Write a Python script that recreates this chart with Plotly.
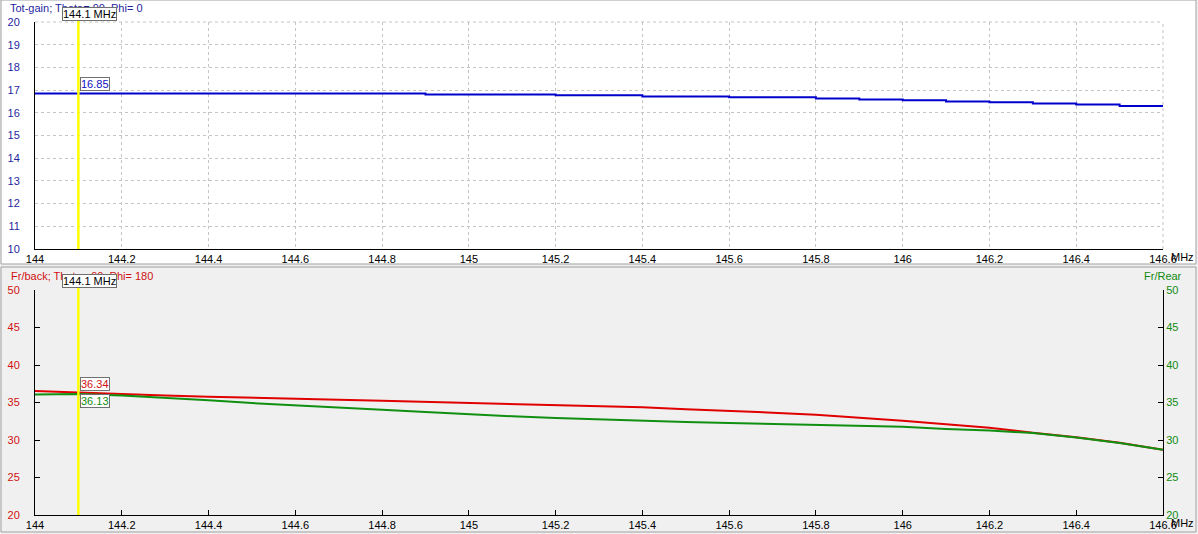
import plotly.graph_objects as go

W, H = 1198, 534

# ---------------- data ----------------
freq_mhz = [144.0, 144.1, 144.2, 144.3, 144.4, 144.5, 144.6, 144.7, 144.8, 144.9,
            145.0, 145.1, 145.2, 145.3, 145.4, 145.5, 145.6, 145.7, 145.8, 145.9,
            146.0, 146.1, 146.2, 146.3, 146.4, 146.5, 146.6]
tot_gain = [16.85, 16.85, 16.85, 16.85, 16.85, 16.85, 16.85, 16.85, 16.85, 16.81,
            16.81, 16.81, 16.77, 16.77, 16.72, 16.72, 16.68, 16.68, 16.63, 16.59,
            16.55, 16.50, 16.46, 16.41, 16.37, 16.30, 16.28]
fr_back = [36.55, 36.34, 36.08, 35.93, 35.78, 35.68, 35.52, 35.38, 35.24, 35.10,
           34.97, 34.84, 34.72, 34.50, 34.36, 34.10, 33.91, 33.64, 33.36, 32.98,
           32.57, 32.09, 31.62, 30.98, 30.36, 29.62, 28.70]
fr_rear = [36.06, 36.13, 35.95, 35.65, 35.29, 34.93, 34.60, 34.35, 34.02, 33.73,
           33.42, 33.16, 32.93, 32.76, 32.50, 32.40, 32.27, 32.17, 32.04, 31.94,
           31.78, 31.48, 31.26, 30.92, 30.33, 29.60, 28.70]
x_ticks = [144.0, 144.2, 144.4, 144.6, 144.8, 145.0, 145.2, 145.4, 145.6, 145.8,
           146.0, 146.2, 146.4, 146.6]
x_ticktext = ["144", "144.2", "144.4", "144.6", "144.8", "145", "145.2", "145.4",
              "145.6", "145.8", "146", "146.2", "146.4", "146.6"]
marker_freq = 144.1
marker_gain = 16.85
marker_fb = 36.34
marker_fr = 36.13

FONT = "Liberation Sans, Arial, sans-serif"
NAVY = "#1f1f9f"
RED = "#d01010"
GREEN = "#108a10"
GRID = "#c4c4c4"
DASH = "3px,3px"


def px(x):
    return x / W


def py(y):
    return 1 - y / H


fig = go.Figure()

fig.add_trace(go.Scatter(x=freq_mhz, y=tot_gain, mode="lines", line_shape="hv",
                         line=dict(color="#0000cc", width=2), xaxis="x", yaxis="y",
                         showlegend=False))
fig.add_trace(go.Scatter(x=freq_mhz, y=fr_back, mode="lines",
                         line=dict(color="#e00000", width=2), xaxis="x2", yaxis="y2",
                         showlegend=False))
fig.add_trace(go.Scatter(x=freq_mhz, y=fr_rear, mode="lines",
                         line=dict(color="#109010", width=2), xaxis="x2", yaxis="y3",
                         showlegend=False))

shapes = [
    # panel frames
    dict(type="rect", xref="paper", yref="paper", x0=px(1), x1=px(1196), y0=py(264), y1=py(0),
         fillcolor="white", line=dict(color="#a0a0a0", width=1), layer="below"),
    dict(type="rect", xref="paper", yref="paper", x0=px(1), x1=px(1196), y0=py(532), y1=py(267),
         fillcolor="#f0f0f0", line=dict(color="#a0a0a0", width=1), layer="below"),
    # dashed frame of the top plot (top and right edges)
    dict(type="line", xref="x domain", yref="y domain", x0=1, x1=1, y0=0, y1=1,
         line=dict(color=GRID, width=1, dash=DASH), layer="below"),
    dict(type="line", xref="x domain", yref="y domain", x0=0, x1=1, y0=1, y1=1,
         line=dict(color=GRID, width=1, dash=DASH), layer="below"),
    # yellow marker lines
    dict(type="line", xref="x", yref="y domain", x0=marker_freq, x1=marker_freq, y0=0, y1=1.03,
         line=dict(color="#ffff00", width=2.5)),
    dict(type="line", xref="x2", yref="y2 domain", x0=marker_freq, x1=marker_freq, y0=0, y1=1.03,
         line=dict(color="#ffff00", width=2.5)),
]

annotations = [
    dict(text="Tot-gain; Theta= 90, Phi= 0", xref="paper", yref="paper", x=px(8), y=py(8),
         xanchor="left", yanchor="middle", showarrow=False, font=dict(color=NAVY, size=11, family=FONT)),
    dict(text="Fr/back; Theta= 90, Phi= 180", xref="paper", yref="paper", x=px(9), y=py(276),
         xanchor="left", yanchor="middle", showarrow=False, font=dict(color=RED, size=11, family=FONT)),
    dict(text="Fr/Rear", xref="paper", yref="paper", x=px(1184), y=py(276),
         xanchor="right", yanchor="middle", showarrow=False, font=dict(color=GREEN, size=11, family=FONT)),
    dict(text="MHz", xref="paper", yref="paper", x=px(1196), y=py(257),
         xanchor="right", yanchor="middle", showarrow=False, font=dict(color="black", size=11, family=FONT)),
    dict(text="MHz", xref="paper", yref="paper", x=px(1196), y=py(523),
         xanchor="right", yanchor="middle", showarrow=False, font=dict(color="black", size=11, family=FONT)),
    # marker frequency boxes
    dict(text=f"{marker_freq} MHz", xref="x", yref="paper", x=marker_freq, y=py(13.5),
         xanchor="center", yanchor="middle", xshift=11, showarrow=False,
         bgcolor="white", bordercolor="#707070", borderwidth=1, borderpad=0,
         font=dict(color="black", size=11, family=FONT)),
    dict(text=f"{marker_freq} MHz", xref="x2", yref="paper", x=marker_freq, y=py(281),
         xanchor="center", yanchor="middle", xshift=11, showarrow=False,
         bgcolor="white", bordercolor="#707070", borderwidth=1, borderpad=0,
         font=dict(color="black", size=11, family=FONT)),
    # value boxes
    dict(text=f"{marker_gain:.2f}", xref="x", yref="y", x=marker_freq, y=marker_gain,
         xanchor="left", yanchor="bottom", xshift=2, yshift=3, showarrow=False,
         bgcolor="white", bordercolor="#707070", borderwidth=1, borderpad=0,
         font=dict(color="#1010c0", size=11, family=FONT)),
    dict(text=f"{marker_fb:.2f}", xref="x2", yref="y2", x=marker_freq, y=marker_fb,
         xanchor="left", yanchor="bottom", xshift=2, yshift=1, showarrow=False,
         bgcolor="white", bordercolor="#707070", borderwidth=1, borderpad=0,
         font=dict(color=RED, size=11, family=FONT)),
    dict(text=f"{marker_fr:.2f}", xref="x2", yref="y3", x=marker_freq, y=marker_fr,
         xanchor="left", yanchor="top", xshift=2, yshift=0, showarrow=False,
         bgcolor="white", bordercolor="#707070", borderwidth=1, borderpad=0,
         font=dict(color=GREEN, size=11, family=FONT)),
]

xdom = [px(35), px(1163)]
fig.update_layout(
    width=W, height=H,
    margin=dict(l=0, r=0, t=0, b=0, autoexpand=False),
    paper_bgcolor="#f0f0f0",
    plot_bgcolor="rgba(0,0,0,0)",
    font=dict(family=FONT, size=11, color="black"),
    shapes=shapes,
    annotations=annotations,
    xaxis=dict(domain=xdom, anchor="y", range=[144, 146.6], tickvals=x_ticks, ticktext=x_ticktext,
               showgrid=True, gridcolor=GRID, griddash=DASH, gridwidth=1, automargin=False,
               showline=True, linecolor="black", linewidth=1, ticks="", zeroline=False,
               tickfont=dict(color="black", size=11)),
    yaxis=dict(domain=[py(249), py(22)], anchor="x", range=[10, 20], dtick=1, automargin=False,
               showgrid=True, gridcolor=GRID, griddash=DASH, gridwidth=1,
               showline=True, linecolor="black", linewidth=1, ticks="", zeroline=False,
               ticklabelstandoff=12, tickfont=dict(color=NAVY, size=11)),
    xaxis2=dict(domain=xdom, anchor="y2", range=[144, 146.6], tickvals=x_ticks, ticktext=x_ticktext,
                showgrid=False, showline=True, linecolor="black", linewidth=1, automargin=False,
                ticks="inside", ticklen=5, tickcolor="black", zeroline=False,
                tickfont=dict(color="black", size=11)),
    yaxis2=dict(domain=[py(515), py(290)], anchor="x2", range=[20, 50], dtick=5, automargin=False,
                showgrid=False, showline=True, linecolor="black", linewidth=1,
                ticks="inside", ticklen=5, tickcolor="black", zeroline=False,
                ticklabelstandoff=12, tickfont=dict(color=RED, size=11)),
    yaxis3=dict(overlaying="y2", side="right", anchor="x2", range=[20, 50], dtick=5, automargin=False,
                showgrid=False, showline=True, linecolor="black", linewidth=1,
                ticks="inside", ticklen=5, tickcolor="black", zeroline=False,
                tickfont=dict(color=GREEN, size=11)),
)

fig.write_html("out.html", config={"displayModeBar": False},
               post_script="document.body.style.margin='0';document.body.style.overflow='hidden';")
